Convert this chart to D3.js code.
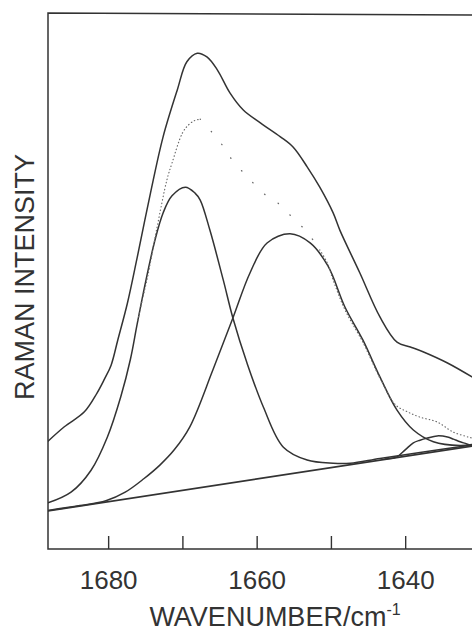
<!DOCTYPE html>
<html>
<head>
<meta charset="utf-8">
<script src="https://cdn.jsdelivr.net/npm/d3@7"></script>
<style>
  body { margin: 0; background: #fff; }
  svg { display: block; }
</style>
</head>
<body>
<script>
// Raman amide I band fit, 1690-1630 cm-1

var outerWidth = 472,
    outerHeight = 631,
    plotLeft = 48,
    plotTop = 13,
    plotBottom = 549;

// wavenumber ticks
var tickValues = [1680, 1670, 1660, 1650, 1640],
    tickLabels = {1680: '1680', 1660: '1660', 1640: '1640'};

// [wavenumber, intensity]
var observed = [
  [1688.1, 20.1], [1685.9, 22.8], [1683.2, 25.6], [1681.5, 29.1], [1680.5, 31.7],
  [1679.6, 34.3], [1678.7, 39.0], [1677.4, 45.9], [1676.1, 54.3], [1674.3, 66.4],
  [1672.6, 76.9], [1670.7, 85.6], [1669.4, 90.9], [1668.0, 92.5], [1666.7, 91.8],
  [1665.3, 89.4], [1663.6, 85.1], [1661.8, 81.9], [1659.5, 79.5], [1656.8, 76.9],
  [1655.1, 75.0], [1653.2, 71.3], [1651.5, 67.5], [1649.7, 62.7], [1648.8, 59.5],
  [1646.1, 51.5], [1643.4, 43.3], [1641.1, 38.6], [1639.3, 37.7], [1637.6, 36.8],
  [1634.3, 34.7], [1631.0, 32.1]
];

// fitted sum, drawn dotted (the middle stretch is only sparsely dotted)
var fitSum = [
  [1676.0, 42.7], [1675.4, 46.5], [1674.7, 50.7], [1673.4, 60.1], [1672.1, 68.8],
  [1671.4, 72.0], [1670.0, 77.6], [1669.2, 79.1], [1668.4, 79.9], [1667.6, 80.2],
  [1666.3, 78.2], [1664.9, 75.9], [1663.8, 73.5], [1661.1, 69.2], [1658.5, 65.7],
  [1657.2, 64.6], [1655.5, 62.3], [1653.2, 59.1], [1651.5, 55.8], [1650.5, 53.4],
  [1649.7, 50.2], [1648.1, 44.6], [1645.7, 38.6], [1643.4, 31.9], [1641.3, 26.9],
  [1639.7, 25.6], [1638.0, 24.6], [1635.7, 23.7], [1633.5, 21.8], [1631.0, 20.7]
];
var fitSumSparse = [9, 18]; // index range of the sparse stretch

var band1670 = [
  [1688.1, 8.6], [1685.0, 10.6], [1682.3, 14.7], [1680.1, 20.9], [1678.3, 28.4],
  [1677.0, 35.4], [1676.1, 41.9], [1674.9, 50.2], [1673.7, 57.6], [1672.6, 62.7],
  [1671.4, 65.9], [1669.6, 67.5], [1668.3, 66.4], [1667.6, 65.1], [1666.3, 59.5],
  [1664.5, 50.2], [1663.2, 43.1], [1661.3, 34.7], [1659.1, 26.5], [1656.4, 19.0],
  [1653.2, 16.6], [1649.7, 16.0], [1647.4, 16.0], [1643.4, 16.9], [1638.0, 18.0],
  [1631.0, 19.4]
];

var band1655 = [
  [1688.1, 7.2], [1683.8, 8.1], [1680.3, 9.0], [1677.7, 10.6], [1675.2, 13.1],
  [1673.0, 15.7], [1671.1, 18.5], [1669.0, 22.8], [1665.9, 33.4], [1663.2, 43.1],
  [1660.9, 51.5], [1658.6, 57.1], [1655.5, 58.8], [1652.8, 57.1], [1650.4, 52.8],
  [1648.1, 45.1], [1645.7, 39.0], [1643.4, 32.1], [1641.1, 25.9], [1638.9, 22.2],
  [1636.2, 20.0], [1632.6, 19.3], [1631.0, 19.5]
];

var band1636 = [
  [1642.7, 16.8], [1641.1, 17.2], [1640.0, 18.5], [1638.9, 19.8], [1638.0, 20.3],
  [1637.0, 20.7], [1635.7, 21.1], [1634.3, 20.9], [1633.5, 20.5], [1632.6, 20.0],
  [1631.7, 19.6], [1631.0, 19.2]
];

var baseline = [[1688.1, 7.1], [1631.0, 19.2]];

var svg = d3.select('body').append('svg')
  .attr('width', outerWidth)
  .attr('height', outerHeight)
  .style('font-family', '"Liberation Sans", Arial, sans-serif');

var xScale = d3.scaleLinear().domain([1688.1, 1631.0]).range([plotLeft, outerWidth]);
var yScale = d3.scaleLinear().domain([0, 100]).range([plotBottom, plotTop]);

svg.append('clipPath').attr('id', 'plot')
  .append('rect')
    .attr('x', plotLeft).attr('y', plotTop)
    .attr('width', outerWidth - plotLeft).attr('height', plotBottom - plotTop);

var line = d3.line()
  .x(function(d){ return xScale(d[0]); })
  .y(function(d){ return yScale(d[1]); })
  .curve(d3.curveCatmullRom);

var g = svg.append('g').attr('clip-path', 'url(#plot)');

function curve(data, w, dash){
  g.append('path')
    .datum(data)
    .attr('d', line)
    .attr('fill', 'none')
    .attr('stroke', dash ? '#6a6a6a' : '#333')
    .attr('stroke-width', w)
    .attr('stroke-dasharray', dash || null)
    .attr('stroke-linecap', 'round');
}

curve(baseline, 1.7);
curve(band1670, 1.5);
curve(band1655, 1.5);
curve(band1636, 1.5);
curve(fitSum.slice(0, fitSumSparse[0] + 1), 1.2, '0.5 3');
curve(fitSum.slice(fitSumSparse[0], fitSumSparse[1] + 1), 1.3, '0.5 16');
curve(fitSum.slice(fitSumSparse[1]), 1.2, '0.5 3');
curve(observed, 1.5);

// frame (right side runs off the page)
svg.append('path')
  .attr('d', 'M' + outerWidth + ',' + (plotTop + 2) + 'L' + plotLeft + ',' + plotTop +
             'L' + plotLeft + ',' + plotBottom + 'L' + outerWidth + ',' + plotBottom)
  .attr('fill', 'none')
  .attr('stroke', '#333')
  .attr('stroke-width', 1.5);

var xAxis = d3.axisBottom(xScale)
  .tickValues(tickValues)
  .tickSize(-13)
  .tickPadding(22)
  .tickFormat(function(d){ return tickLabels[d] || ''; });

var ax = svg.append('g')
  .attr('transform', 'translate(0,' + plotBottom + ')')
  .call(xAxis);
ax.select('.domain').remove();
ax.selectAll('line').attr('stroke', '#333').attr('stroke-width', 1.4);
ax.selectAll('text')
  .attr('fill', '#333')
  .style('font-size', '26px')
  .style('font-family', '"Liberation Sans", Arial, sans-serif');

var xt = svg.append('text')
  .attr('x', 275)
  .attr('y', 626)
  .attr('text-anchor', 'middle')
  .attr('fill', '#333')
  .style('font-size', '27px');
xt.append('tspan').text('WAVENUMBER/cm');
xt.append('tspan').attr('dy', -11).style('font-size', '16px').text('-1');

svg.append('text')
  .attr('transform', 'translate(34,277) rotate(-90)')
  .attr('text-anchor', 'middle')
  .attr('fill', '#333')
  .style('font-size', '27px')
  .text('RAMAN INTENSITY');
</script>
</body>
</html>
